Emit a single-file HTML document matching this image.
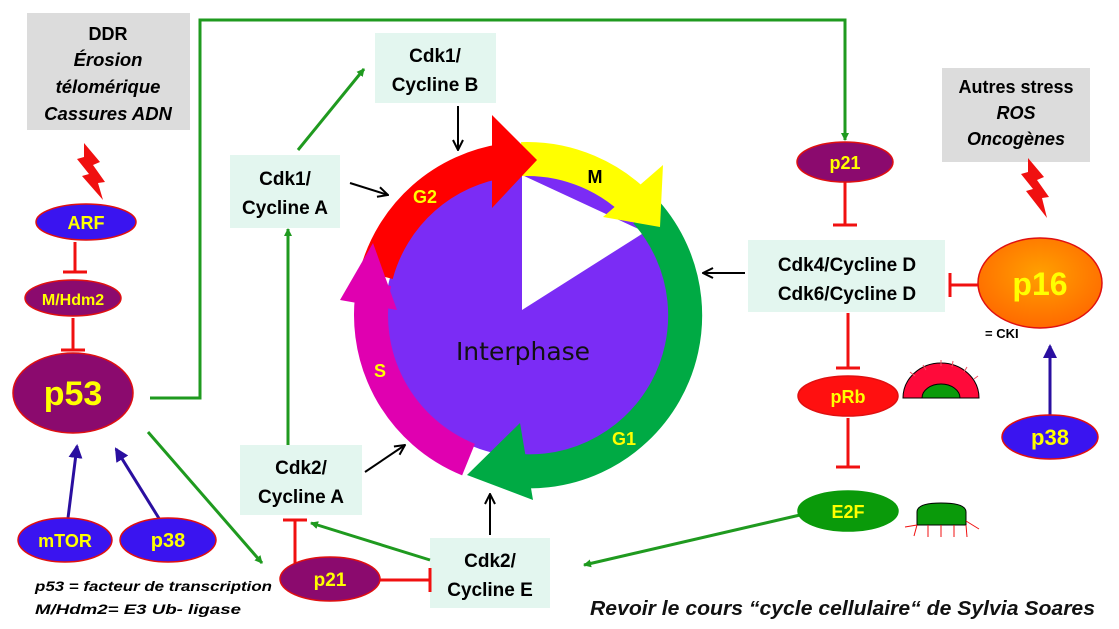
<!DOCTYPE html>
<html><head><meta charset="utf-8"><style>
body{margin:0;background:#fff}
svg{display:block}
text{font-family:"Liberation Sans",sans-serif;font-weight:bold}
</style></head><body>
<svg width="1119" height="629" viewBox="0 0 1119 629" xmlns="http://www.w3.org/2000/svg">
<defs>
<marker id="ag" markerWidth="8" markerHeight="8" refX="7" refY="4" orient="auto" markerUnits="userSpaceOnUse"><path d="M0,0 L8,4 L0,8 z" fill="#1f9a1f"/></marker>
<marker id="ak" markerWidth="12" markerHeight="12" refX="11" refY="6" orient="auto" markerUnits="userSpaceOnUse"><path d="M1,1 L11,6 L1,11" fill="none" stroke="#000" stroke-width="2"/></marker>
<marker id="ab" markerWidth="14" markerHeight="14" refX="12" refY="7" orient="auto" markerUnits="userSpaceOnUse"><path d="M0,0 L14,7 L0,14 z" fill="#2a0fa0"/></marker>
<radialGradient id="og" cx="50%" cy="40%" r="60%"><stop offset="0" stop-color="#ffa000"/><stop offset="1" stop-color="#ff6a00"/></radialGradient>
</defs>

<rect x="27" y="13" width="163" height="117" fill="#dcdcdc"/>
<text x="108" y="40" font-size="18" text-anchor="middle">DDR</text>
<text x="108" y="66" font-size="18.5" text-anchor="middle" font-style="italic">Érosion</text>
<text x="108" y="93" font-size="18.5" text-anchor="middle" font-style="italic">télomérique</text>
<text x="108" y="120" font-size="18.5" text-anchor="middle" font-style="italic">Cassures ADN</text>
<rect x="942" y="68" width="148" height="94" fill="#dcdcdc"/>
<text x="1016" y="93" font-size="18" text-anchor="middle">Autres stress</text>
<text x="1016" y="119" font-size="18" text-anchor="middle" font-style="italic">ROS</text>
<text x="1016" y="145" font-size="18" text-anchor="middle" font-style="italic">Oncogènes</text>

<path d="M84,143 L100,162 L93,165 L105,182 L98,183 L103,200 L82,176 L89,174 L77,159 L84,157 z" fill="#f01010"/>
<path d="M1028,158 L1044,177 L1037,180 L1049,197 L1042,198 L1047,218 L1026,191 L1033,189 L1021,174 L1028,172 z" fill="#f01010"/>

<circle cx="527" cy="315" r="142" fill="#7b2cf5"/>
<polygon points="522,310 522,175 645,232" fill="#fff"/>
<g fill="none" stroke-width="34">
<path d="M376.3,274.6 A156,156 0 0 1 505.3,160.5" stroke="#ff0000"/>
<path d="M521.6,159.1 A156,156 0 0 1 642.9,210.6" stroke="#ffff00"/>
<path d="M646,212 A156,156 0 0 1 499.9,468.6" stroke="#00aa44"/>
<path d="M468.5,459.6 A156,156 0 0 1 374.4,282.6" stroke="#e000b0"/>
</g>
<polygon points="492,115 537,160 492,208" fill="#ff0000"/>
<polygon points="373,243 340,300 397,310" fill="#e000b0"/>
<polygon points="663,165 660,227 603,217" fill="#ffff00"/>
<polygon points="520,423 467,475 533,500" fill="#00aa44"/>
<text x="425" y="203" font-size="18" fill="#ffff00" text-anchor="middle">G2</text>
<text x="595" y="183" font-size="18" fill="#000" text-anchor="middle">M</text>
<text x="380" y="377" font-size="18" fill="#ffff00" text-anchor="middle">S</text>
<text x="624" y="445" font-size="18" fill="#ffff00" text-anchor="middle">G1</text>
<text x="523" y="360" font-size="25" fill="#111" text-anchor="middle" style="font-family:'DejaVu Sans',sans-serif;font-weight:normal">Interphase</text>

<g fill="#e3f6ef">
<rect x="375" y="33" width="121" height="70"/>
<rect x="230" y="155" width="110" height="73"/>
<rect x="240" y="445" width="122" height="70"/>
<rect x="430" y="538" width="120" height="70"/>
<rect x="748" y="240" width="197" height="72"/>
</g>
<g font-size="19" text-anchor="middle" fill="#000">
<text x="435" y="62">Cdk1/</text><text x="435" y="91">Cycline B</text>
<text x="285" y="185">Cdk1/</text><text x="285" y="214">Cycline A</text>
<text x="301" y="474">Cdk2/</text><text x="301" y="503">Cycline A</text>
<text x="490" y="567">Cdk2/</text><text x="490" y="596">Cycline E</text>
<text x="847" y="271">Cdk4/Cycline D</text><text x="847" y="300">Cdk6/Cycline D</text>
</g>

<g stroke="#1f9a1f" stroke-width="3" fill="none" marker-end="url(#ag)">
<path d="M150,398 L200,398 L200,20 L845,20 L845,140"/>
<path d="M148,432 L262,563"/>
<path d="M288,445 L288,229"/>
<path d="M298,150 L364,69"/>
<path d="M430,560 L311,523"/>
<path d="M800,515 L584,565"/>
</g>
<g stroke="#000" stroke-width="2" fill="none" marker-end="url(#ak)">
<path d="M458,106 L458,150"/>
<path d="M350,183 L388,195"/>
<path d="M365,472 L405,445"/>
<path d="M490,535 L490,494"/>
<path d="M745,273 L703,273"/>
</g>
<g stroke="#f01010" stroke-width="3" fill="none">
<path d="M75,242 L75,272 M63,272 L87,272"/>
<path d="M73,318 L73,350 M61,350 L85,350"/>
<path d="M845,182 L845,225 M833,225 L857,225"/>
<path d="M848,313 L848,368 M836,368 L860,368"/>
<path d="M848,418 L848,467 M836,467 L860,467"/>
<path d="M978,285 L950,285 M950,273 L950,297"/>
<path d="M380,580 L430,580 M430,568 L430,592"/>
<path d="M295,563 L295,520 M283,520 L307,520"/>
</g>
<g stroke="#2a0fa0" stroke-width="3" fill="none" marker-end="url(#ab)">
<path d="M68,518 L77,446"/>
<path d="M160,520 L116,449"/>
<path d="M1050,415 L1050,346"/>
</g>

<g stroke="#e01010" stroke-width="1.5">
<ellipse cx="86" cy="222" rx="50" ry="18" fill="#3a14f0"/>
<ellipse cx="73" cy="298" rx="48" ry="18" fill="#8b0a6e"/>
<ellipse cx="73" cy="393" rx="60" ry="40" fill="#8b0a6e"/>
<ellipse cx="65" cy="540" rx="47" ry="22" fill="#3a14f0"/>
<ellipse cx="168" cy="540" rx="48" ry="22" fill="#3a14f0"/>
<ellipse cx="330" cy="579" rx="50" ry="22" fill="#8b0a6e"/>
<ellipse cx="845" cy="162" rx="48" ry="20" fill="#8b0a6e"/>
<ellipse cx="1040" cy="283" rx="62" ry="45" fill="url(#og)"/>
<ellipse cx="848" cy="396" rx="50" ry="20" fill="#ff1010"/>
<ellipse cx="848" cy="511" rx="50" ry="20" fill="#0a9a0a" stroke="#0a9a0a"/>
<ellipse cx="1050" cy="437" rx="48" ry="22" fill="#3a14f0"/>
</g>
<g fill="#ffff00" text-anchor="middle">
<text x="86" y="229" font-size="18">ARF</text>
<text x="73" y="305" font-size="16">M/Hdm2</text>
<text x="73" y="405" font-size="34">p53</text>
<text x="65" y="547" font-size="18">mTOR</text>
<text x="168" y="547" font-size="20">p38</text>
<text x="330" y="586" font-size="19">p21</text>
<text x="845" y="169" font-size="18">p21</text>
<text x="1040" y="295" font-size="32">p16</text>
<text x="848" y="403" font-size="18">pRb</text>
<text x="848" y="518" font-size="18">E2F</text>
<text x="1050" y="445" font-size="22">p38</text>
</g>
<text x="985" y="338" font-size="13" fill="#000">= CKI</text>

<path d="M903,398 A38,35 0 0 1 979,398 Z" fill="#ff0a3a" stroke="#000" stroke-width="1"/>
<path d="M922,398 A19,14 0 0 1 960,398 Z" fill="#0a9a0a" stroke="#000" stroke-width="1"/>
<g stroke="#f05060" stroke-width="1"><path d="M910,372 L915,376 M923,365 L926,370 M941,360 L941,366 M953,361 L952,367 M967,367 L964,372 M978,376 L974,379"/></g>
<path d="M917,525 L917,512 Q917,503 941,503 Q966,503 966,512 L966,525 Z" fill="#0a9a0a" stroke="#000" stroke-width="1"/>
<g stroke="#f01010" stroke-width="1"><path d="M905,527 L917,525 M914,536 L917,525 M928,537 L928,525 M941,537 L941,525 M954,537 L954,525 M967,537 L966,525 M979,529 L966,521"/></g>

<g font-size="14" font-style="italic" fill="#000">
<text x="35" y="591" textLength="237" lengthAdjust="spacingAndGlyphs">p53 = facteur de transcription</text>
<text x="35" y="614" textLength="206" lengthAdjust="spacingAndGlyphs">M/Hdm2= E3 Ub- ligase</text>
</g>
<text x="590" y="615" font-size="20" font-style="italic" fill="#111" textLength="505" lengthAdjust="spacingAndGlyphs">Revoir le cours “cycle cellulaire“ de Sylvia Soares</text>
</svg>
</body></html>
